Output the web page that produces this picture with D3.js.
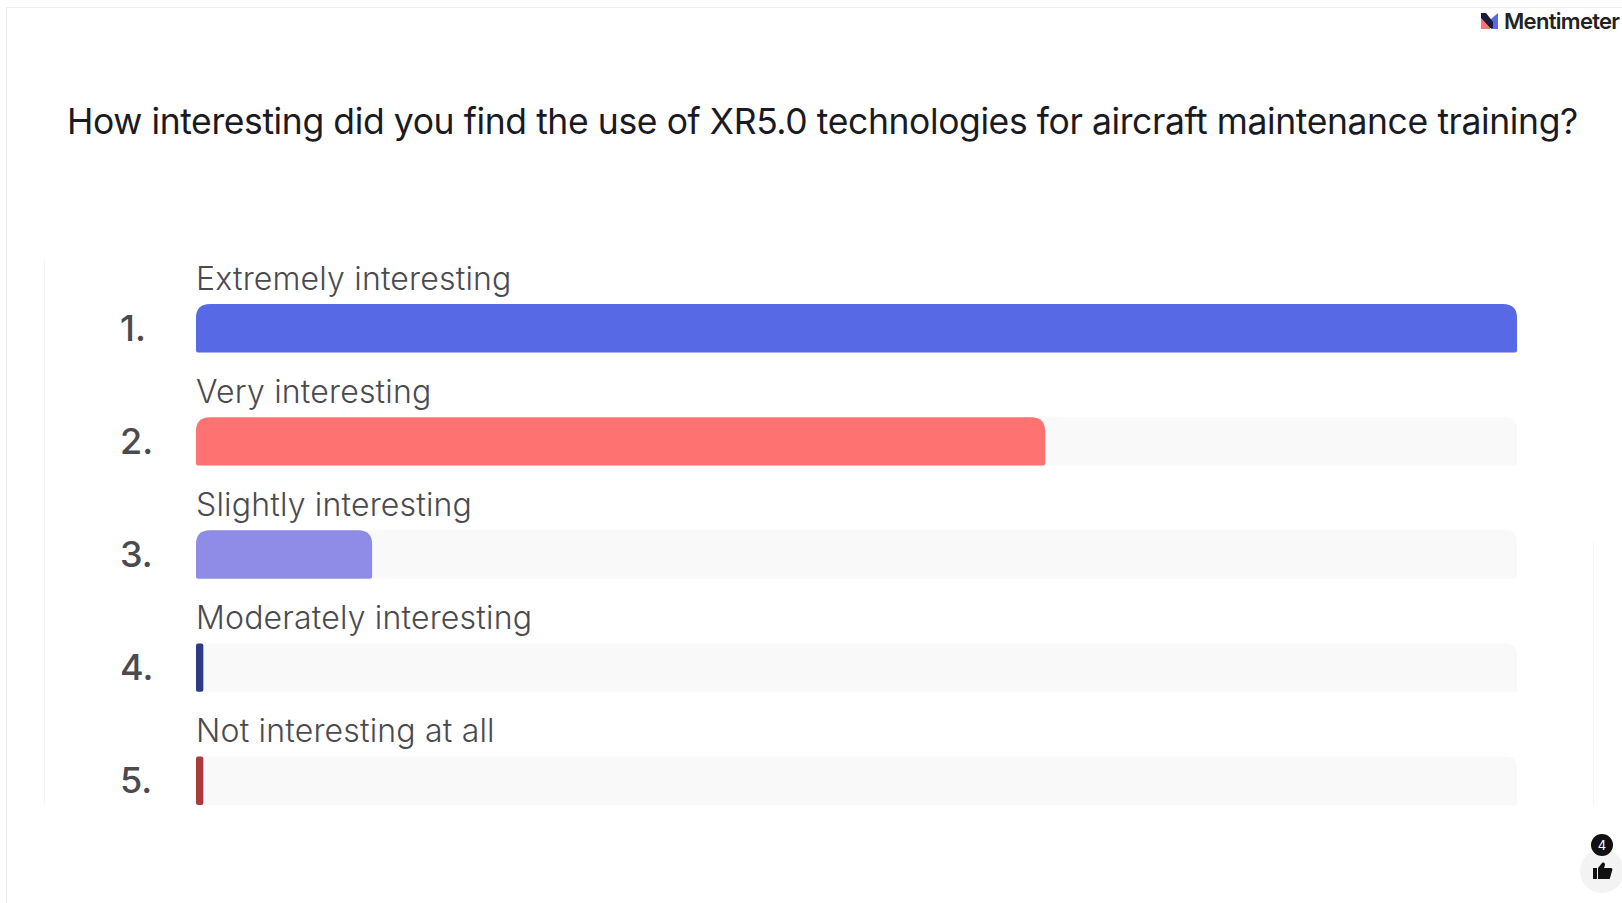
<!DOCTYPE html>
<html><head><meta charset="utf-8">
<script src="https://cdn.jsdelivr.net/npm/d3@7"></script>
<style>html,body{margin:0;padding:0;background:#fff;overflow:hidden}svg{display:block}text{font-family:Inter,"Open Sans",sans-serif}</style>
</head><body>
<svg id="c" width="1622" height="903"></svg>
<script>
const categories = ["Extremely interesting","Very interesting","Slightly interesting","Moderately interesting","Not interesting at all"];
const ranks = ["1.","2.","3.","4.","5."];
const votes = [18, 11.57, 2.4, 0.1, 0.1];
const barColors = ["#5769e5","#ff7272","#8f8ce8","#2f3a86","#ab3a3c"];
const title = "How interesting did you find the use of XR5.0 technologies for aircraft maintenance training?";

const svg = d3.select("#c");
svg.append("path").attr("d","M6.5 903V7.5H1622").attr("fill","none").attr("stroke","#ececec");

// Faint edges of the results panel
svg.append("line").attr("x1",44.5).attr("x2",44.5).attr("y1",258).attr("y2",806).attr("stroke","#f6f6f6");
svg.append("line").attr("x1",1593.5).attr("x2",1593.5).attr("y1",540).attr("y2",806).attr("stroke","#f6f6f6");

svg.append("text").attr("x",67).attr("y",134).attr("font-size",35.5).attr("fill","#1a1a24").attr("letter-spacing",-0.4).text(title);

const x = d3.scaleLinear().domain([0,18]).range([196,1517]);
const y = d3.scaleBand().domain(categories).range([304,805]).paddingInner(0.5714).paddingOuter(0);
const h = y.bandwidth();

// Bar with large top corners and barely rounded bottom corners
const bar = (x0,x1,y0,hh,r,b) => {
  r = Math.min(r, x1-x0);
  b = Math.min(b, (x1-x0)/2);
  const yb = y0+hh;
  return `M${x0} ${yb-b}V${y0+r}Q${x0} ${y0} ${x0+r} ${y0}H${x1-r}Q${x1} ${y0} ${x1} ${y0+r}V${yb-b}Q${x1} ${yb} ${x1-b} ${yb}H${x0+b}Q${x0} ${yb} ${x0} ${yb-b}Z`;
};

const rows = svg.selectAll("g.row").data(categories).join("g").attr("class","row");
rows.append("path").attr("fill","#f9f9f9")
  .attr("d",d=>bar(x(0),x(18),y(d),h,12,2));
rows.append("path").attr("fill",(d,i)=>barColors[i])
  .attr("d",(d,i)=>{const w=Math.max(x(votes[i]),x(0)+7);return bar(x(0),w,y(d),h,w-x(0)<20?2:14,2);});
rows.append("text").attr("x",x(0)).attr("y",d=>y(d)-14.5).attr("font-size",32).attr("font-weight",300).attr("fill","#4a4a4f").attr("letter-spacing",0.18).text(d=>d);
rows.append("text").attr("x",120).attr("y",d=>y(d)+36.5).attr("font-size",36).attr("font-weight",500).attr("fill","#4a4a4f").text((d,i)=>ranks[i]);

// Mentimeter mark and wordmark
const logo = svg.append("g").attr("transform","translate(1481,13)");
logo.append("path").attr("d","M0 5L9 15V16H0Z").attr("fill","#ff7272");
logo.append("path").attr("d","M10 16V6L17 0V16Z").attr("fill","#5769e5");
logo.append("path").attr("d","M0 0H5L12 9V15H9L0 5Z").attr("fill","#1c1c3a");
svg.append("text").attr("x",1504).attr("y",29).attr("font-size",22).attr("font-weight",600).attr("fill","#222").attr("letter-spacing",-0.7).text("Mentimeter");

// Reaction counter
svg.append("circle").attr("cx",1602).attr("cy",871).attr("r",22).attr("fill","#f3f3f3");
svg.append("circle").attr("cx",1602).attr("cy",845).attr("r",11).attr("fill","#111");
svg.append("text").attr("x",1602).attr("y",850).attr("text-anchor","middle").attr("font-size",13).attr("fill","#fff").text("4");
svg.append("path").attr("d","M1593 868h4v11h-4zM1598 868l4-5c2-1 3 0 3 2l-1 3h7c1 0 2 1 1 3l-2 7c0 1-1 1-2 1h-10z").attr("fill","#111");
</script>
</body></html>
